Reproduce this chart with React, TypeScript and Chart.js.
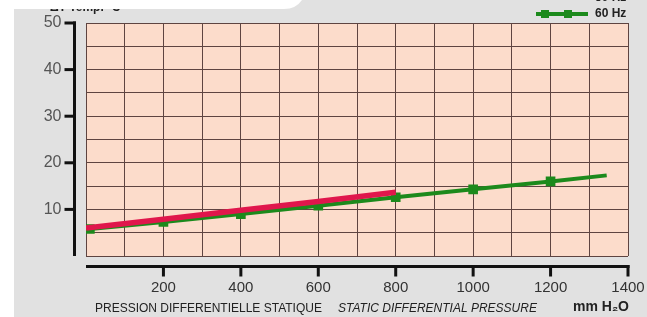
import React, { useEffect, useRef } from "react";
import { Chart, registerables } from "chart.js";

Chart.register(...registerables);

const greenX = [10, 200, 400, 600, 800, 1000, 1200, 1345];
const greenY = [5.8, 7.3, 9.0, 10.8, 12.6, 14.3, 16.0, 17.3];
const greenMarkers = [1, 1, 1, 1, 1, 1, 1, 0];
const redX = [0, 200, 400, 600, 800];
const redY = [6.0, 7.9, 9.8, 11.7, 13.7];
const xTickLabels = [200, 400, 600, 800, 1000, 1200, 1400];
const yTickLabels = [10, 20, 30, 40, 50];
const legendLabel = "60 Hz";
const legendLabelTop = "50 Hz";
const titleFr = "PRESSION DIFFERENTIELLE STATIQUE";
const titleEn = "STATIC DIFFERENTIAL PRESSURE";
const unitLabel = "mm H₂O";
const topLabel = "ΔT Temp. °C";

const GREEN = "#1c8a1c";
const RED = "#e0164c";
const GREY_BG = "#e1e1e1";
const PEACH = "#fcdccb";
const GRID = "#5e4441";
const AXIS = "#111111";

export default function App() {
  const ref = useRef<HTMLCanvasElement | null>(null);
  useEffect(() => {
    const canvas = ref.current;
    if (!canvas) return;
    const decor = {
      id: "decor",
      beforeDraw(chart: any) {
        const ctx = chart.ctx;
        const a = chart.chartArea;
        ctx.save();
        ctx.fillStyle = "#ffffff";
        ctx.fillRect(0, 0, chart.width, chart.height);
        ctx.fillStyle = GREY_BG;
        ctx.fillRect(14, 0, chart.width - 14, chart.height);
        ctx.fillStyle = "#222";
        ctx.font = "bold 12px 'Liberation Sans', Arial, sans-serif";
        ctx.textBaseline = "alphabetic";
        ctx.textAlign = "left";
        ctx.fillText(topLabel, 50, 11);
        ctx.fillStyle = "#ffffff";
        ctx.beginPath();
        ctx.moveTo(0, 0);
        ctx.lineTo(302, 0);
        ctx.quadraticCurveTo(296, 9, 284, 9);
        ctx.lineTo(0, 9);
        ctx.closePath();
        ctx.fill();
        ctx.fillStyle = PEACH;
        ctx.fillRect(a.left, a.top, a.right - a.left, a.bottom - a.top);
        ctx.restore();
      },
      afterDraw(chart: any) {
        const ctx = chart.ctx;
        const a = chart.chartArea;
        const xs = chart.scales.x;
        const ys = chart.scales.y;
        ctx.save();
        ctx.strokeStyle = AXIS;
        ctx.lineWidth = 3;
        ctx.lineCap = "butt";
        const axX = a.left - 11.5;
        ctx.beginPath();
        ctx.moveTo(axX, ys.getPixelForValue(50) - 1.5);
        ctx.lineTo(axX, a.bottom);
        ctx.stroke();
        for (const v of yTickLabels) {
          const y = ys.getPixelForValue(v);
          ctx.beginPath();
          ctx.moveTo(axX - 10, y);
          ctx.lineTo(axX + 1.5, y);
          ctx.stroke();
        }
        ctx.fillStyle = "#555";
        ctx.font = "16px 'Liberation Sans Narrow', 'Arial Narrow', 'Liberation Sans', sans-serif";
        ctx.textAlign = "right";
        ctx.textBaseline = "middle";
        for (const v of yTickLabels) {
          ctx.fillText(String(v), axX - 13, ys.getPixelForValue(v));
        }
        const axY = a.bottom + 10.5;
        ctx.beginPath();
        ctx.moveTo(a.left, axY);
        ctx.lineTo(xs.getPixelForValue(1400) + 1.5, axY);
        ctx.stroke();
        for (const v of xTickLabels) {
          const x = xs.getPixelForValue(v);
          ctx.beginPath();
          ctx.moveTo(x, axY - 1.5);
          ctx.lineTo(x, axY + 10);
          ctx.stroke();
        }
        ctx.fillStyle = "#333";
        ctx.font = "15px 'Liberation Sans', Arial, sans-serif";
        ctx.textAlign = "center";
        ctx.textBaseline = "middle";
        for (const v of xTickLabels) {
          ctx.fillText(String(v), xs.getPixelForValue(v), axY + 21);
        }
        ctx.fillStyle = "#222";
        ctx.textAlign = "left";
        ctx.textBaseline = "alphabetic";
        ctx.font = "12px 'Liberation Sans', Arial, sans-serif";
        ctx.fillText(titleFr, 95, 312);
        ctx.font = "italic 12px 'Liberation Sans', Arial, sans-serif";
        ctx.fillText(titleEn, 338, 312);
        ctx.font = "bold 14px 'Liberation Sans', Arial, sans-serif";
        ctx.fillText(unitLabel, 573, 311);
        ctx.strokeStyle = GREEN;
        ctx.lineWidth = 4;
        ctx.beginPath();
        ctx.moveTo(536, 14);
        ctx.lineTo(588, 14);
        ctx.stroke();
        ctx.fillStyle = GREEN;
        ctx.fillRect(541, 10, 8, 8);
        ctx.fillRect(564, 10, 8, 8);
        ctx.fillStyle = "#222";
        ctx.font = "bold 12px 'Liberation Sans', Arial, sans-serif";
        ctx.textBaseline = "middle";
        ctx.fillText(legendLabel, 595, 14);
        ctx.fillText(legendLabelTop, 595, -2);
        ctx.restore();
      },
    };
    const chart = new Chart(canvas, {
      type: "line",
      data: {
        datasets: [
          {
            label: "50 Hz",
            data: redX.map((x, i) => ({ x, y: redY[i] })),
            borderColor: RED,
            backgroundColor: RED,
            borderWidth: 5.5,
            pointRadius: 0,
            order: 0,
          },
          {
            label: "60 Hz",
            data: greenX.map((x, i) => ({ x, y: greenY[i] })),
            borderColor: GREEN,
            backgroundColor: GREEN,
            borderWidth: 4,
            pointStyle: "rect",
            pointRadius: greenMarkers.map((m) => (m ? 4 : 0)),
            order: 1,
          },
        ],
      },
      options: {
        animation: false,
        responsive: false,
        devicePixelRatio: 1,
        layout: { padding: { left: 86, right: 19, top: 23, bottom: 61 } },
        plugins: { legend: { display: false }, tooltip: { enabled: false } },
        scales: {
          x: {
            type: "linear",
            min: 0,
            max: 1400,
            ticks: { display: false, stepSize: 100 },
            grid: { color: GRID, lineWidth: 1, drawTicks: false },
            border: { display: false },
          },
          y: {
            min: 0,
            max: 50,
            ticks: { display: false, stepSize: 5 },
            grid: { color: GRID, lineWidth: 1, drawTicks: false },
            border: { display: false },
          },
        },
      },
      plugins: [decor],
    });
    return () => chart.destroy();
  }, []);
  return (
    <div style={{ position: "fixed", left: 0, top: 0, width: 647, height: 317 }}>
      <canvas ref={ref} width={647} height={317} style={{ width: 647, height: 317, display: "block" }} />
    </div>
  );
}
